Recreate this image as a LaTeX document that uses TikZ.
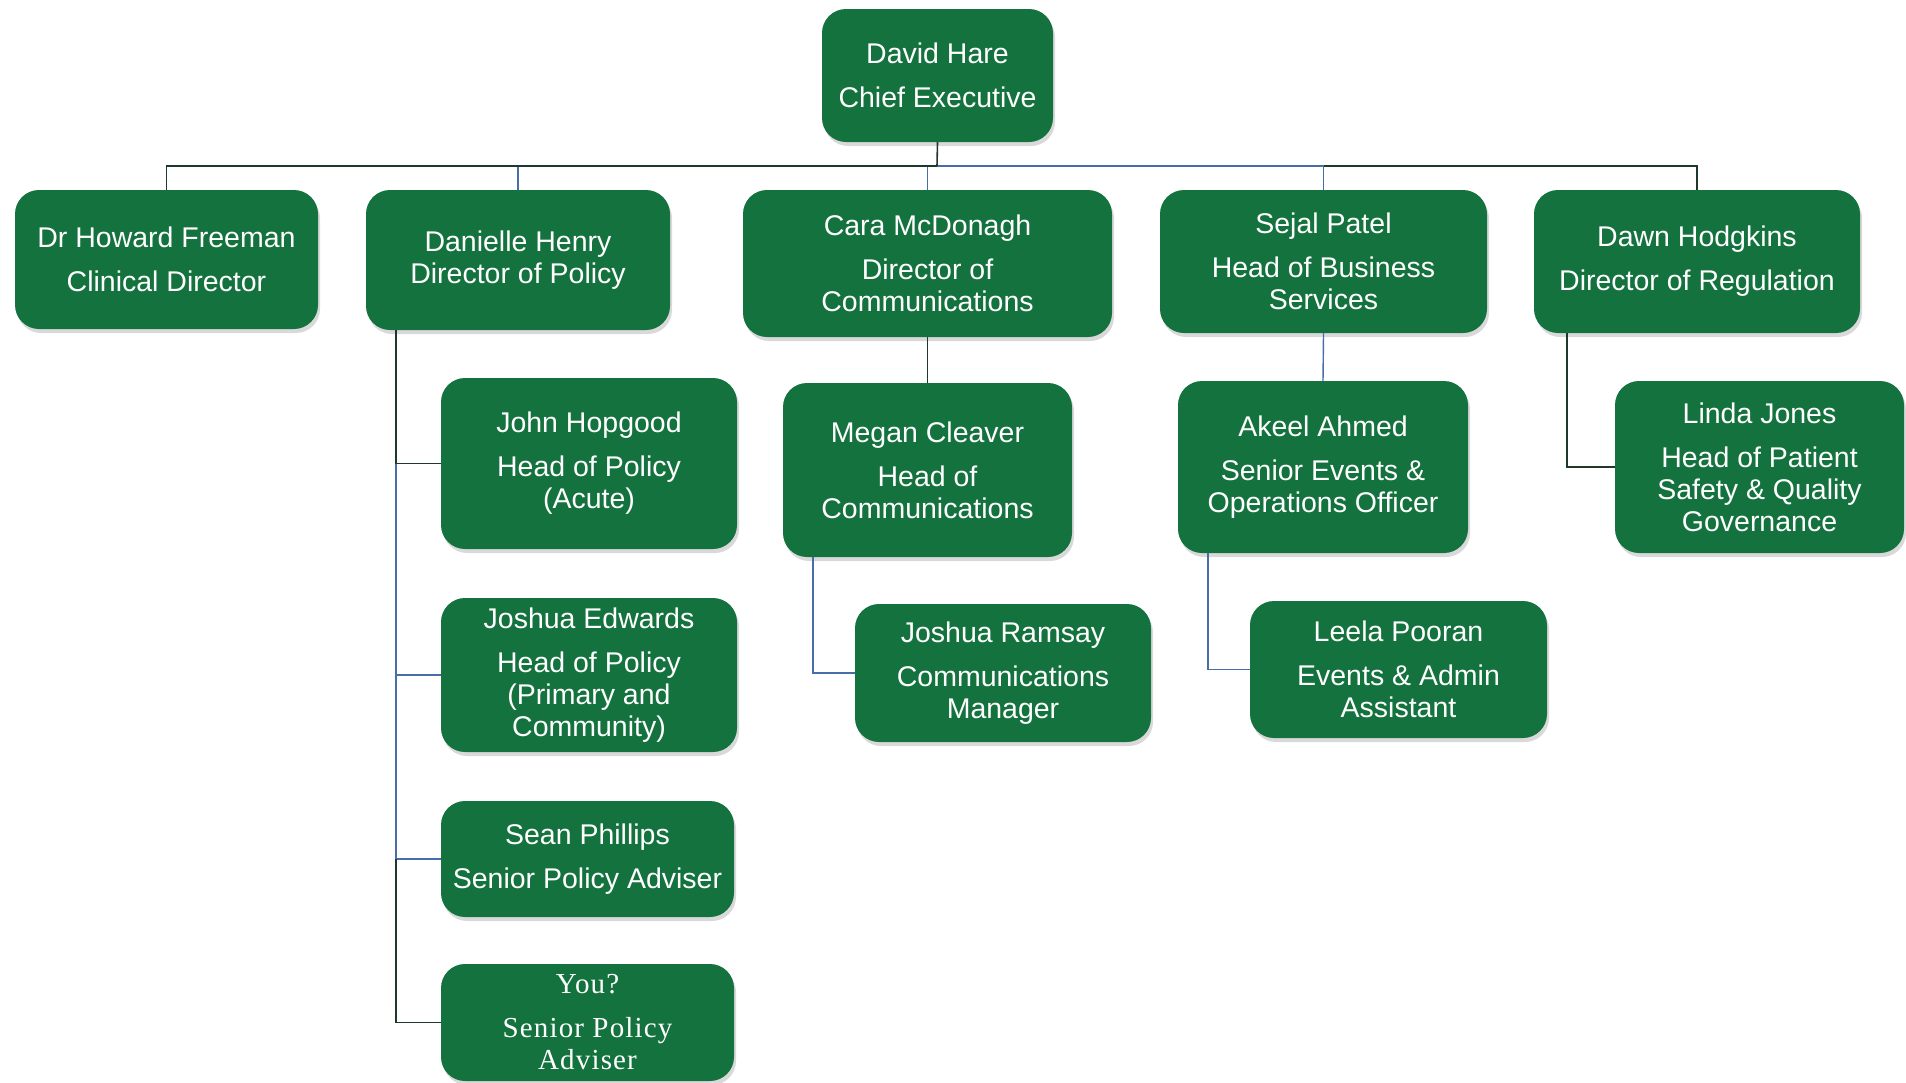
\documentclass[tikz,border=0pt]{standalone}
\usepackage{fontspec}
\setmainfont{Liberation Sans}
\newfontfamily\youfont[LetterSpace=4]{Liberation Serif}
\usetikzlibrary{shadows}
\definecolor{chartgreen}{RGB}{20,114,62}
\definecolor{linedark}{RGB}{30,56,42}
\definecolor{lineblue}{RGB}{72,110,168}

\begin{document}
\begin{tikzpicture}[x=1pt,y=-1pt,
    post/.style 2 args={fill=chartgreen, rounded corners=24pt, text=white, align=center,
      inner sep=0pt, minimum width=#1pt, minimum height=#2pt,
      font=\fontsize{28.5}{32}\selectfont,
      drop shadow={shadow xshift=2pt, shadow yshift=-4pt, opacity=0.3}},
    darkline/.style={draw=linedark, line width=1.6pt},
    blueline/.style={draw=lineblue, line width=1.4pt}]
    \useasboundingbox (0,0) rectangle (1906,1082);

    \node[post={231}{133}] (hare) at (937.5,75.5) {David Hare\\[12pt]Chief Executive};

    \node[post={303}{139}] (freeman) at (166.5,259.5) {Dr Howard Freeman\\[12pt]Clinical Director};
    \node[post={304}{140}] (henry) at (518,260) {Danielle Henry\\Director of Policy};
    \node[post={369}{147}] (mcdonagh) at (927.5,263.5) {Cara McDonagh\\[12pt]Director of\\Communications};
    \node[post={327}{143}] (patel) at (1323.5,261.5) {Sejal Patel\\[12pt]Head of Business\\Services};
    \node[post={326}{143}] (hodgkins) at (1697,261.5) {Dawn Hodgkins\\[12pt]Director of Regulation};

    \node[post={296}{171}] (hopgood) at (589,463.5) {John Hopgood\\[12pt]Head of Policy\\(Acute)};
    \node[post={296}{154}] (edwards) at (589,675) {Joshua Edwards\\[12pt]Head of Policy\\(Primary and\\Community)};
    \node[post={293}{116}] (phillips) at (587.5,859) {Sean Phillips\\[12pt]Senior Policy Adviser};
    \node[post={293}{117}, font=\youfont\fontsize{29}{32}\selectfont] (you) at (587.5,1022.5) {You?\\[12pt]Senior Policy\\Adviser};

    \node[post={289}{174}] (cleaver) at (927.5,470) {Megan Cleaver\\[12pt]Head of\\Communications};
    \node[post={296}{138}] (ramsay) at (1003,673) {Joshua Ramsay\\[12pt]Communications\\Manager};

    \node[post={290}{172}] (ahmed) at (1323,467) {Akeel Ahmed\\[12pt]Senior Events \&\\Operations Officer};
    \node[post={297}{137}] (pooran) at (1398.5,669.5) {Leela Pooran\\[12pt]Events \& Admin\\Assistant};

    \node[post={289}{172}] (jones) at (1759.5,467) {Linda Jones\\[12pt]Head of Patient\\Safety \& Quality\\Governance};

    \coordinate (bus) at (937,166);
    \coordinate (pol) at ([xshift=30pt]henry.south west);
    \coordinate (comm) at ([xshift=30pt]cleaver.south west);
    \coordinate (events) at ([xshift=30pt]ahmed.south west);
    \coordinate (reg) at ([xshift=33pt]hodgkins.south west);

    \draw[blueline] (bus) -| (patel.north);
    \draw[blueline] (henry.north) -- (henry.north |- bus);
    \draw[blueline] (mcdonagh.north) -- (mcdonagh.north |- bus);
    \draw[darkline] (hare.south) -- (bus);
    \draw[darkline] (freeman.north) |- (bus);
    \draw[darkline] (hodgkins.north) |- (patel.north |- bus);

    \draw[darkline] (pol) |- (hopgood.west);
    \draw[blueline] (pol |- hopgood.west) |- (edwards.west);
    \draw[blueline] (pol |- edwards.west) |- (phillips.west);
    \draw[darkline] (pol |- phillips.west) |- (you.west);

    \draw[darkline] (mcdonagh.south) -- (cleaver.north);
    \draw[blueline] (comm) |- (ramsay.west);
    \draw[blueline] (patel.south) -- (ahmed.north);
    \draw[blueline] (events) |- (pooran.west);
    \draw[darkline] (reg) |- (jones.west);

  \end{tikzpicture}
\end{document}
